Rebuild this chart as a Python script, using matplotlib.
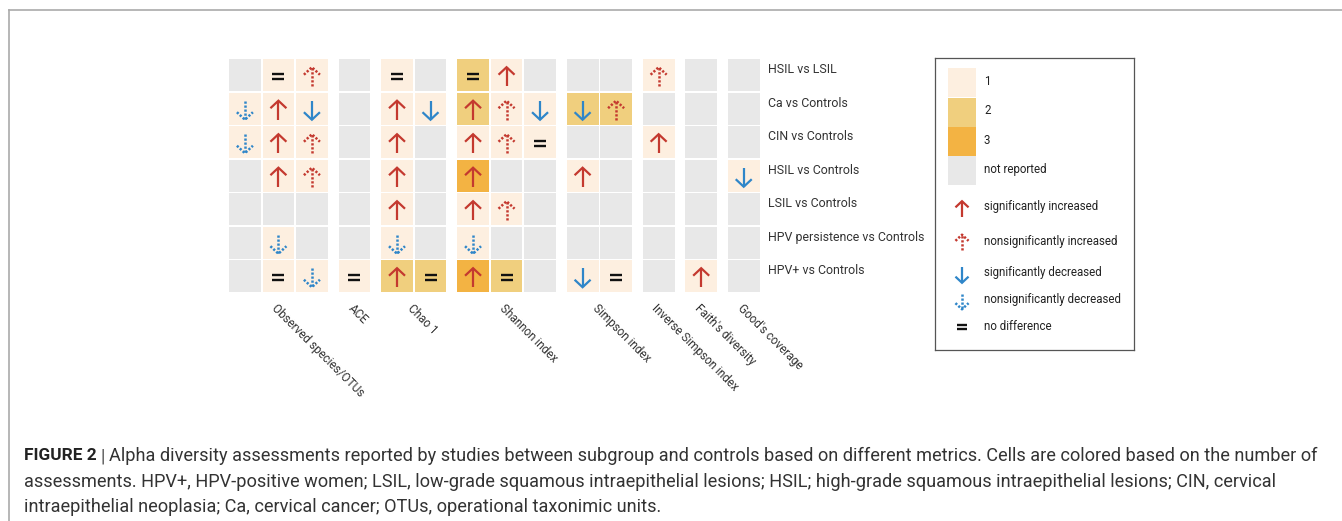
import numpy as np
import matplotlib
matplotlib.use("Agg")
import matplotlib.pyplot as plt
from matplotlib.patches import Rectangle

plt.rcParams['font.family'] = ['Roboto', 'DejaVu Sans']

# Data
metrics = ["Observed species/OTUs", "ACE", "Chao 1", "Shannon index",
           "Simpson index", "Inverse Simpson index", "Faith's diversity",
           "Good's coverage"]
n_cols = [3, 1, 2, 3, 2, 1, 1, 1]
comparisons = ["HSIL vs LSIL", "Ca vs Controls", "CIN vs Controls",
               "HSIL vs Controls", "LSIL vs Controls",
               "HPV persistence vs Controls", "HPV+ vs Controls"]

# number of assessments per cell (0 = not reported)
levels = [
    [0, 1, 1, 0, 1, 0, 2, 1, 0, 0, 0, 1, 0, 0],
    [1, 1, 1, 0, 1, 1, 2, 1, 1, 2, 2, 0, 0, 0],
    [1, 1, 1, 0, 1, 0, 1, 1, 1, 0, 0, 1, 0, 0],
    [0, 1, 1, 0, 1, 0, 3, 0, 0, 1, 0, 0, 0, 1],
    [0, 0, 0, 0, 1, 0, 1, 1, 0, 0, 0, 0, 0, 0],
    [0, 1, 0, 0, 1, 0, 1, 0, 0, 0, 0, 0, 0, 0],
    [0, 1, 1, 1, 2, 2, 3, 2, 0, 1, 1, 0, 1, 0],
]
# U sig. increased, u nonsig. increased, D sig. decreased,
# d nonsig. decreased, E no difference
symbols = [
    ['', 'E', 'u', '', 'E', '', 'E', 'U', '', '', '', 'u', '', ''],
    ['d', 'U', 'D', '', 'U', 'D', 'U', 'u', 'D', 'D', 'u', '', '', ''],
    ['d', 'U', 'u', '', 'U', '', 'U', 'u', 'E', '', '', 'U', '', ''],
    ['', 'U', 'u', '', 'U', '', 'U', '', '', 'U', '', '', '', 'D'],
    ['', '', '', '', 'U', '', 'U', 'u', '', '', '', '', '', ''],
    ['', 'd', '', '', 'd', '', 'd', '', '', '', '', '', '', ''],
    ['', 'E', 'd', 'E', 'U', 'E', 'U', 'E', '', 'D', 'E', '', 'U', ''],
]
level_labels = ["1", "2", "3", "not reported"]
symbol_keys = ['U', 'u', 'D', 'd', 'E']
symbol_labels = ["significantly increased", "nonsignificantly increased",
                 "significantly decreased", "nonsignificantly decreased",
                 "no difference"]

caption_bold = "FIGURE 2"
caption_lines = [
    "Alpha diversity assessments reported by studies between subgroup and controls based on different metrics. Cells are colored based on the number of",
    "assessments. HPV+, HPV-positive women; LSIL, low-grade squamous intraepithelial lesions; HSIL; high-grade squamous intraepithelial lesions; CIN, cervical",
    "intraepithelial neoplasia; Ca, cervical cancer; OTUs, operational taxonimic units.",
]

# Style
cell_colors = {0: '#e8e8e8', 1: '#fdefe0', 2: '#f0cf7e', 3: '#f3b343'}
RED = '#c4392f'
BLUE = '#2f86c9'
W, H = 1342, 521
P = 33.5          # pixels per grid unit
CELL = 0.95
GGAP = 0.27


def draw_symbol(ax, x, y, kind, s=1.0):
    if kind == '':
        return
    if kind == 'E':
        hw = 6 / P * s
        for dy in (-2.6, 2.6):
            ax.plot([x - hw, x + hw], [y + dy / P * s] * 2, color='#111111',
                    lw=1.7, solid_capstyle='butt')
        return
    up = kind in 'Uu'
    solid = kind in 'UD'
    color = RED if up else BLUE
    half = 9.5 / P * s
    hw = 8 / P * s
    hh = 7.5 / P * s
    d = -1 if up else 1
    tip = y + d * half
    tail = y - d * half
    ls = '-' if solid else (0, (0.9, 0.7))
    lw = 1.6 if solid else 1.8
    ax.plot([x, x], [tail, tip], color=color, lw=lw, ls=ls,
            solid_capstyle='butt')
    ax.plot([x - hw, x, x + hw], [tip - d * hh, tip, tip - d * hh],
            color=color, lw=lw, ls=ls, solid_joinstyle='miter',
            solid_capstyle='butt')


fig = plt.figure(figsize=(W / 100, H / 100), dpi=100)

# background / frame
bg = fig.add_axes([0, 0, 1, 1])
bg.set_xlim(0, W)
bg.set_ylim(H, 0)
bg.axis('off')
bg.plot([9, W], [10, 10], color='#aaaaaa', lw=1.2)
bg.plot([9, 9], [10, H], color='#aaaaaa', lw=1.2)

# column x positions
col_x = []
group_of_col = []
j = 0
for g, n in enumerate(n_cols):
    for k in range(n):
        col_x.append(j + GGAP * g)
        group_of_col.append(g)
        j += 1
col_x = np.array(col_x)
n_rows = len(comparisons)

gx0, gy0 = 229, 59.3
gw = (col_x[-1] + CELL) * P
gh = (n_rows - 1 + CELL) * P
ax = fig.add_axes([gx0 / W, 1 - (gy0 + gh) / H, gw / W, gh / H])
ax.set_xlim(0, col_x[-1] + CELL)
ax.set_ylim(n_rows - 1 + CELL, 0)
ax.axis('off')

for r in range(n_rows):
    for c in range(len(col_x)):
        ax.add_patch(Rectangle((col_x[c], r), CELL, CELL,
                               facecolor=cell_colors[levels[r][c]],
                               edgecolor='none'))
        draw_symbol(ax, col_x[c] + CELL / 2, r + CELL / 2 + 1.5 / P,
                    symbols[r][c])

for r, name in enumerate(comparisons):
    ax.text(col_x[-1] + CELL + 8 / P, r + CELL / 2 - 5.5 / P, name,
            fontsize=8.9, color='#333333', ha='left', va='center',
            clip_on=False)

for g, name in enumerate(metrics):
    xs = col_x[np.array(group_of_col) == g]
    xc = (xs.min() + xs.max() + CELL) / 2
    ax.text(xc, n_rows - 1 + CELL + 10 / P, name, rotation=-45,
            rotation_mode='anchor', ha='left', va='top', fontsize=8.5,
            color='#333333', clip_on=False)

# legend
lx0, ly0, lw_, lh_ = 935, 58, 199, 292
lg = fig.add_axes([lx0 / W, 1 - (ly0 + lh_) / H, lw_ / W, lh_ / H])
lg.set_xlim(0, lw_ / P)
lg.set_ylim(lh_ / P, 0)
lg.set_xticks([])
lg.set_yticks([])
for sp in lg.spines.values():
    sp.set_color('#555555')
    sp.set_linewidth(0.9)

sw_top = [10.3, 39.5, 69.0, 98.0]
for lev, lab, t in zip([1, 2, 3, 0], level_labels, sw_top):
    lg.add_patch(Rectangle((13 / P, t / P), 28 / P, 29 / P,
                           facecolor=cell_colors[lev], edgecolor='none'))
    lg.text(49 / P, (t + 13.5) / P, lab, fontsize=8.3, color='#222222',
            ha='left', va='center')

sym_y = [151, 184.5, 217, 243.5, 269]
txt_y = [148.7, 183.7, 214.7, 242, 268.7]
for key, lab, sy, ty in zip(symbol_keys, symbol_labels, sym_y, txt_y):
    draw_symbol(lg, 27 / P, sy / P, key, s=0.82)
    lg.text(49 / P, ty / P, lab, fontsize=8.3, color='#222222',
            ha='left', va='center')

# caption
cap_kw = dict(fontsize=13.1, color='#333333', va='center')
t0 = bg.text(24, 456, caption_bold, fontweight='bold', fontsize=12.4,
             color='#222222', va='center')
fig.canvas.draw()
ext = t0.get_window_extent()
bx = ext.x1 + 4
bg.text(bx, 456, "|", fontsize=13.1, color='#555555', va='center')
bg.text(bx + 8, 456, caption_lines[0], **cap_kw)
bg.text(24, 482, caption_lines[1], **cap_kw)
bg.text(24, 507.5, caption_lines[2], **cap_kw)

fig.savefig("out.png", dpi=100)
